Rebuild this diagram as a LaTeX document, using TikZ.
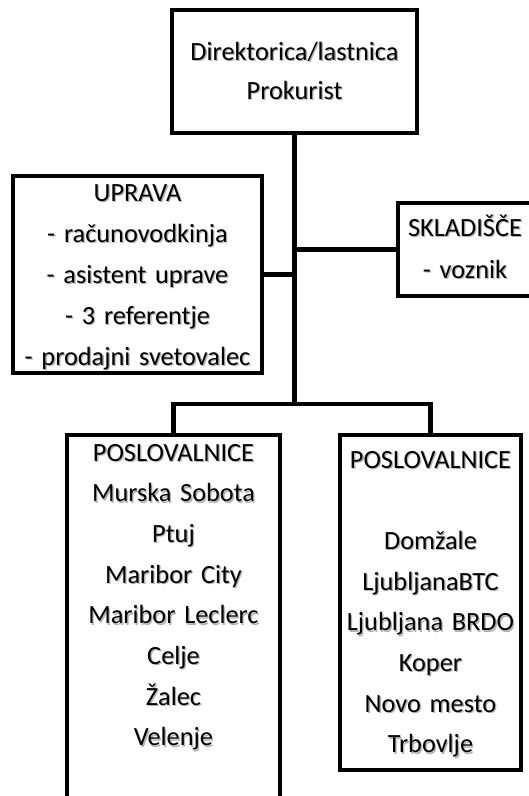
\documentclass[tikz,border=0pt]{standalone}
\usepackage{fontspec}
\setmainfont{Carlito}
\begin{document}
\begin{tikzpicture}[x=1pt,y=-1pt,
  box/.style={draw=black,line width=4.3pt,fill=white,rectangle,inner sep=0pt,outer sep=0pt,line join=miter},
  conn/.style={draw=black,line width=4.3pt,line join=miter},
  lbl/.style={anchor=base,inner sep=0pt,text width=280pt,align=center,text=black},
  sh/.style={lbl,text=black!30,xshift=1.3pt,yshift=-1.3pt}]
\useasboundingbox (0,0) rectangle (528,796);
% boxes
\node[box,minimum width=245pt,minimum height=123pt] (top) at (294.5,71.5) {};
\node[box,minimum width=249pt,minimum height=197pt] (upr) at (137.5,274.5) {};
\node[box,minimum width=134pt,minimum height=93pt] (skl) at (465,249.5) {};
\node[box,minimum width=213pt,minimum height=380pt] (lp) at (173.5,625) {};
\node[box,minimum width=181pt,minimum height=335pt] (rp) at (430.5,602.5) {};
\coordinate (bar) at (294.5,404);
% connectors
\draw[conn] (top.south) -- (bar);
\draw[conn] (lp.north) |- (bar) -| (rp.north);
\draw[conn] (upr.east) -- (upr.east -| top.south);
\draw[conn] (skl.west) -- (skl.west -| top.south);
% texts
\node[sh,font=\fontsize{26.3}{39}\selectfont] (toptxts) at (294.5,60) {Direktorica/lastnica\\Prokurist};
\node[lbl,font=\fontsize{26.3}{39}\selectfont] (toptxt) at (294.5,60) {Direktorica/lastnica\\Prokurist};
\node[sh,font=\fontsize{26.3}{41}\selectfont] (uprtxts) at (137.5,201) {UPRAVA\\- računovodkinja\\- asistent uprave\\- 3 referentje\\- prodajni svetovalec};
\node[lbl,font=\fontsize{26.3}{41}\selectfont] (uprtxt) at (137.5,201) {UPRAVA\\- računovodkinja\\- asistent uprave\\- 3 referentje\\- prodajni svetovalec};
\node[sh,font=\fontsize{26.3}{42}\selectfont] (skltxts) at (465,236) {SKLADIŠČE\\- voznik};
\node[lbl,font=\fontsize{26.3}{42}\selectfont] (skltxt) at (465,236) {SKLADIŠČE\\- voznik};
\node[sh,font=\fontsize{26.3}{40.7}\selectfont] (lptxts) at (173.5,461) {POSLOVALNICE\\Murska Sobota\\Ptuj\\Maribor City\\Maribor Leclerc\\Celje\\Žalec\\Velenje};
\node[lbl,font=\fontsize{26.3}{40.7}\selectfont] (lptxt) at (173.5,461) {POSLOVALNICE\\Murska Sobota\\Ptuj\\Maribor City\\Maribor Leclerc\\Celje\\Žalec\\Velenje};
\node[sh,font=\fontsize{26.3}{40.7}\selectfont] (rptxts) at (430.5,468) {POSLOVALNICE\\ \mbox{}\\Domžale\\LjubljanaBTC\\Ljubljana BRDO\\Koper\\Novo mesto\\Trbovlje};
\node[lbl,font=\fontsize{26.3}{40.7}\selectfont] (rptxt) at (430.5,468) {POSLOVALNICE\\ \mbox{}\\Domžale\\LjubljanaBTC\\Ljubljana BRDO\\Koper\\Novo mesto\\Trbovlje};
\end{tikzpicture}
\end{document}
